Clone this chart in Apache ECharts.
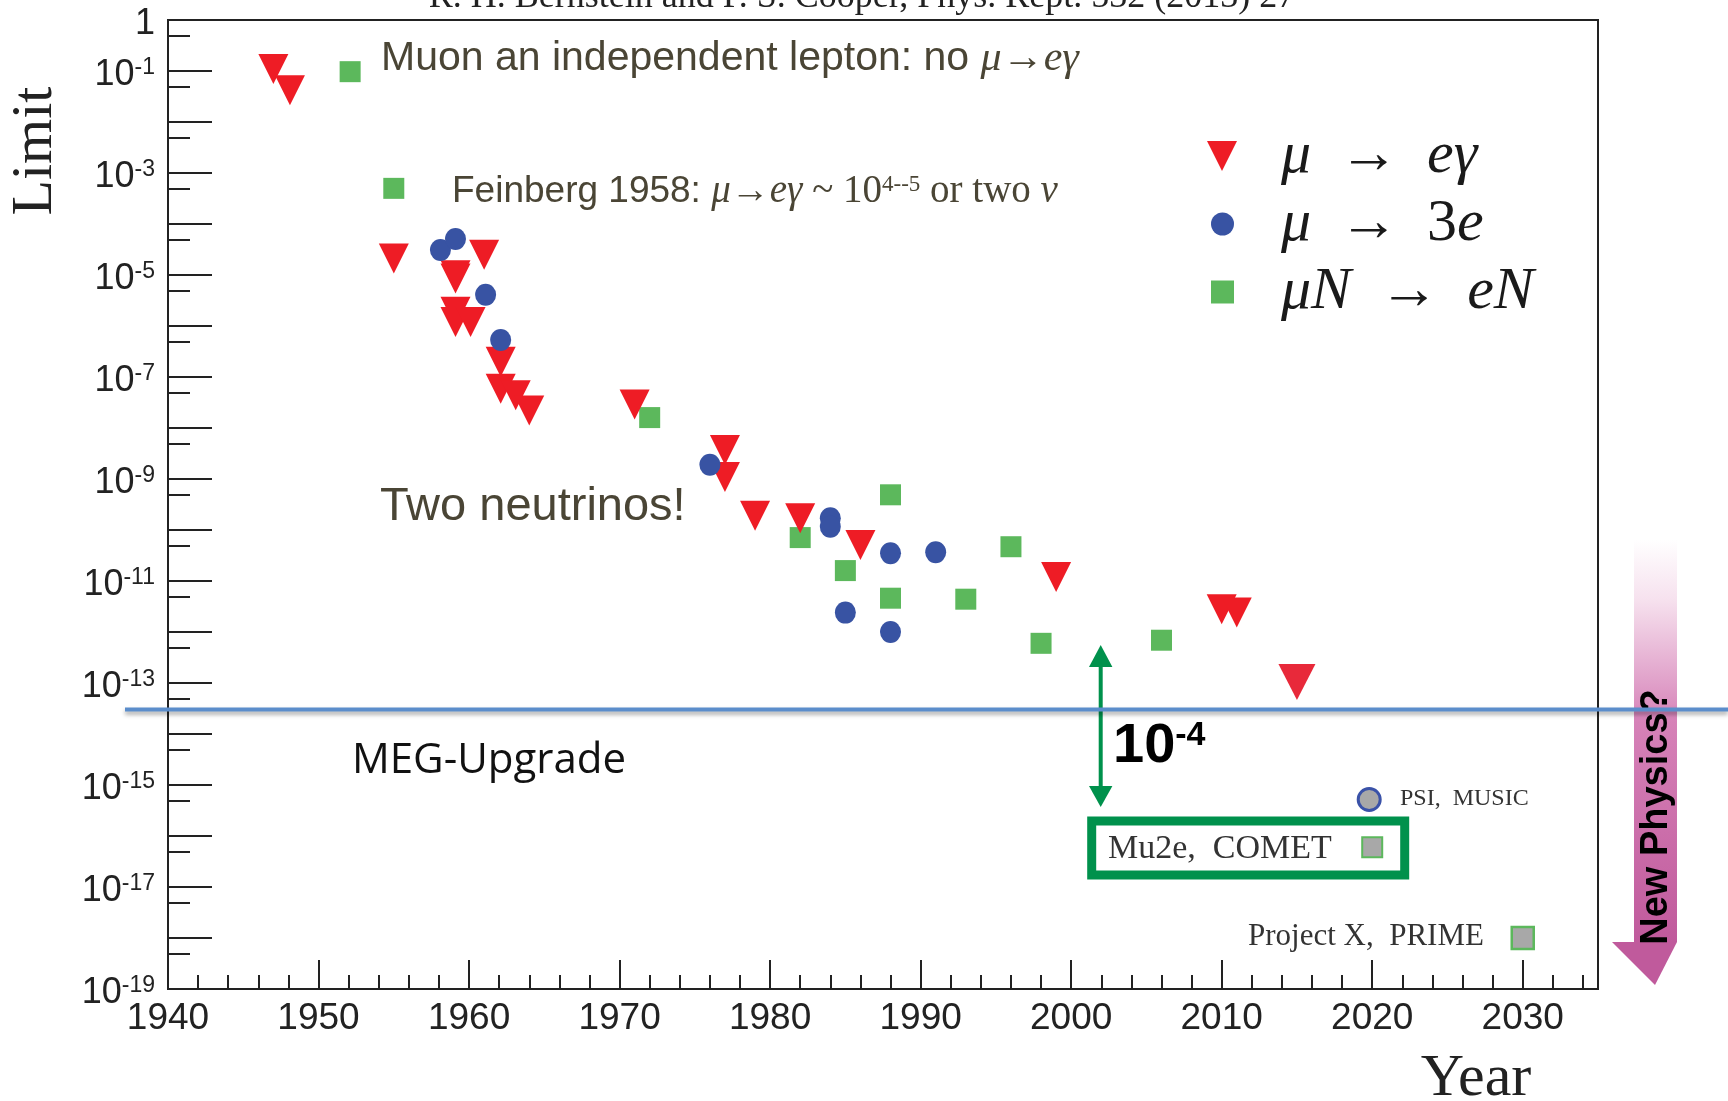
<!DOCTYPE html>
<html>
<head>
<meta charset="utf-8">
<title>Muon LFV limits</title>
<script src="https://cdn.jsdelivr.net/npm/echarts@6.0.0/dist/echarts.min.js"></script>
<style>
html, body { margin: 0; padding: 0; background: #fff; }
#main { width: 1728px; height: 1101px; }
</style>
</head>
<body>
<div id="main"></div>
<script>
// μ → eγ
var megYear  = [1947.0, 1948.1, 1955.0, 1959.1, 1959.1, 1961.0, 1959.1, 1959.1, 1960.1, 1962.1, 1962.1, 1963.1, 1964.0,
                1971.0, 1977.0, 1977.0, 1979.0, 1982.0, 1986.0, 1999.0, 2010.0, 2011.0, 2015.0];
var megLimit = [1.1e-1, 4.2e-2, 2.1e-5, 9.9e-6, 8.5e-6, 2.5e-5, 1.9e-6, 1.2e-6, 1.2e-6, 2.0e-7, 5.9e-8, 4.4e-8, 2.2e-8,
                2.9e-8, 3.7e-9, 1.1e-9, 1.9e-10, 1.7e-10, 5.1e-11, 1.2e-11, 2.8e-12, 2.4e-12, 1.05e-13];
// μ → 3e
var m3eYear  = [1958.1, 1959.1, 1961.1, 1962.1, 1976.0, 1984.0, 1984.0, 1988.0, 1991.0, 1985.0, 1988.0];
var m3eLimit = [3.1e-5, 5.1e-5, 4.1e-6, 5.3e-7, 1.9e-9, 1.7e-10, 1.16e-10, 3.5e-11, 3.65e-11, 2.4e-12, 1.0e-12];
// μN → eN
var convYear  = [1952.1, 1955.0, 1972.0, 1982.0, 1988.0, 1985.0, 1988.0, 1993.0, 1996.0, 1998.0, 2006.0];
var convLimit = [9.7e-2, 5.0e-4, 1.6e-8, 7.1e-11, 4.9e-10, 1.6e-11, 4.6e-12, 4.4e-12, 4.7e-11, 6.0e-13, 6.9e-13];
// future experiments
var futureName  = ['PSI, MUSIC', 'Mu2e, COMET', 'Project X, PRIME'];
var futureYear  = [2019.8, 2020.0, 2030.0];
var futureLimit = [5.2e-16, 6.0e-17, 1.0e-18];
// y axis ticks
var decadeTicks = [1, 1e-1, 1e-2, 1e-3, 1e-4, 1e-5, 1e-6, 1e-7, 1e-8, 1e-9, 1e-10,
                   1e-11, 1e-12, 1e-13, 1e-14, 1e-15, 1e-16, 1e-17, 1e-18, 1e-19];
var decadeLabels = [1, 1e-1, 1e-3, 1e-5, 1e-7, 1e-9, 1e-11, 1e-13, 1e-15, 1e-17, 1e-19];
var halfDecadeTicks = [5e-1, 5e-2, 5e-3, 5e-4, 5e-5, 5e-6, 5e-7, 5e-8, 5e-9, 5e-10,
                       5e-11, 5e-12, 5e-13, 5e-14, 5e-15, 5e-16, 5e-17, 5e-18, 5e-19];
var seriesNames = ['μ → eγ', 'μ → 3e', 'μN → eN'];
var legendText = {
  'μ → eγ': '{i|μ}{a|→}{i|eγ}',
  'μ → 3e': '{i|μ}{a|→}{u|3}{i|e}',
  'μN → eN': '{i|μN}{a|→}{i|eN}'
};

var SANS = '"Liberation Sans", Arial, sans-serif';
var SERIF = '"Liberation Serif", "Times New Roman", serif';
var AXIS = '#222';
var NOTE = '#4a4535';

function pairs(xs, ys) {
  var out = [];
  for (var i = 0; i < xs.length; i++) out.push([xs[i], ys[i]]);
  return out;
}

var megData = pairs(megYear, megLimit);
megData[megData.length - 1] = { value: megData[megData.length - 1], symbolSize: [37, 36], itemStyle: { color: '#e8293a' } };

var futureStyle = [
  { symbol: 'circle', symbolSize: 22, itemStyle: { color: '#a8a8a8', borderColor: '#3a52a8', borderWidth: 3, opacity: 1 } },
  { symbol: 'rect', symbolSize: 20, itemStyle: { color: '#a8a8a8', borderColor: '#5cb85c', borderWidth: 2, opacity: 1 } },
  { symbol: 'rect', symbolSize: 22, itemStyle: { color: '#a8a8a8', borderColor: '#5cb85c', borderWidth: 2.5, opacity: 1 } }
];
var futureData = [];
for (var i = 0; i < futureYear.length; i++) {
  futureData.push({
    name: futureName[i], value: [futureYear[i], futureLimit[i]],
    symbol: futureStyle[i].symbol, symbolSize: futureStyle[i].symbolSize, itemStyle: futureStyle[i].itemStyle
  });
}

var myChart = echarts.init(document.getElementById('main'));

var option = {
  animation: false,
  backgroundColor: '#fff',
  grid: { left: 168, top: 20, width: 1430, height: 969, show: true, borderColor: AXIS, borderWidth: 2, backgroundColor: 'transparent' },
  legend: {
    orient: 'vertical', left: 1206, top: 126, padding: 0,
    itemWidth: 70, itemHeight: 34, itemGap: 8,
    selectedMode: false,
    data: [
      { name: seriesNames[0], icon: 'path://M0,0 M70,34 M1,2 L31,2 L16,32 Z' },
      { name: seriesNames[1], icon: 'path://M0,0 M70,34 M5,17 A11.5,11.5 0 1 0 28,17 A11.5,11.5 0 1 0 5,17 Z' },
      { name: seriesNames[2], icon: 'path://M0,0 M70,34 M5,5.5 L28,5.5 L28,28.5 L5,28.5 Z' }
    ],
    formatter: function (name) { return legendText[name]; },
    textStyle: {
      lineHeight: 58,
      rich: {
        i: { fontFamily: SERIF, fontStyle: 'italic', fontSize: 60, color: '#1a1a1a', lineHeight: 58 },
        u: { fontFamily: SERIF, fontSize: 60, color: '#1a1a1a', lineHeight: 58 },
        a: { fontFamily: SERIF, fontSize: 60, color: '#1a1a1a', lineHeight: 58, padding: [0, 28, 0, 28] }
      }
    }
  },
  xAxis: [{
    type: 'value', min: 1940, max: 2035, interval: 10,
    axisLine: { lineStyle: { color: AXIS, width: 2 } },
    axisTick: { inside: true, length: 29, lineStyle: { color: AXIS, width: 2 } },
    axisLabel: {
      margin: 11, fontSize: 37, fontFamily: SANS, color: AXIS,
      formatter: function (v) { return v <= 2030 ? String(v) : ''; }
    },
    splitLine: { show: false }
  }, {
    type: 'value', position: 'bottom', min: 1940, max: 2035, interval: 2,
    axisLine: { show: false },
    axisTick: { inside: true, length: 14, lineStyle: { color: AXIS, width: 2 } },
    axisLabel: { show: false },
    splitLine: { show: false }
  }],
  yAxis: [{
    type: 'log', logBase: 10, min: 1e-19, max: 1,
    axisLine: { lineStyle: { color: AXIS, width: 2 } },
    axisTick: { inside: true, length: 44, customValues: decadeTicks, lineStyle: { color: AXIS, width: 2 } },
    axisLabel: {
      margin: 13,
      padding: [9, 0, 0, 0],
      customValues: decadeLabels,
      formatter: function (v) {
        var e = Math.round(Math.log10(v));
        if (e === 0) return '{b|1}';
        return '{b|10}{s|' + e + '}';
      },
      rich: {
        b: { fontSize: 36, fontFamily: SANS, color: AXIS, lineHeight: 38 },
        s: { fontSize: 23, fontFamily: SANS, color: AXIS, verticalAlign: 'top', lineHeight: 23 }
      }
    },
    splitLine: { show: false }
  }, {
    type: 'log', logBase: 10, position: 'left', min: 1e-19, max: 1,
    axisLine: { show: false },
    axisTick: { inside: true, length: 22, customValues: halfDecadeTicks, lineStyle: { color: AXIS, width: 2 } },
    axisLabel: { show: false },
    splitLine: { show: false }
  }],
  series: [{
    name: seriesNames[0], type: 'scatter', symbol: 'triangle', symbolRotate: 180, symbolSize: [30, 30],
    itemStyle: { color: '#ee1c25', opacity: 1 }, data: megData, z: 3
  }, {
    name: seriesNames[1], type: 'scatter', symbol: 'circle', symbolSize: [21, 22],
    itemStyle: { color: '#3853a3', opacity: 1 }, data: pairs(m3eYear, m3eLimit), z: 4
  }, {
    name: seriesNames[2], type: 'scatter', symbol: 'rect', symbolSize: 21,
    itemStyle: { color: '#5cb85c', opacity: 1 }, data: pairs(convYear, convLimit), z: 2
  }, {
    name: 'future', type: 'scatter', data: futureData, z: 4
  }],
  graphic: [
    // clipped reference line at the very top
    { type: 'text', x: 862, y: -2, style: { text: 'R. H. Bernstein and P. S. Cooper, Phys. Rept. 532 (2013) 27', font: '36px ' + SERIF, fill: '#222', align: 'center', verticalAlign: 'middle' } },
    { type: 'text', x: 36, y: 151, rotation: Math.PI / 2, style: { text: 'Limit', font: '58px ' + SERIF, fill: '#222', align: 'center', verticalAlign: 'middle' } },
    { type: 'text', x: 1476, y: 1079, style: { text: 'Year', font: '60px ' + SERIF, fill: '#222', align: 'center', verticalAlign: 'middle' } },
    { type: 'text', x: 381, y: 59, style: {
        text: '{a|Muon an independent lepton: no }{m|μ}{r|→}{m|eγ}', align: 'left', verticalAlign: 'middle',
        rich: {
          a: { fontFamily: SANS, fontSize: 41, fill: NOTE },
          m: { fontFamily: SERIF, fontStyle: 'italic', fontSize: 42, fill: NOTE },
          r: { fontFamily: SERIF, fontSize: 42, fill: NOTE }
        } } },
    { type: 'text', x: 452, y: 192, style: {
        text: '{a|Feinberg 1958: }{m|μ}{r|→}{m|eγ}{r| ~ 10}{s|4--5}{r| or two }{m|ν}', align: 'left', verticalAlign: 'middle',
        rich: {
          a: { fontFamily: SANS, fontSize: 37, fill: NOTE, lineHeight: 38 },
          m: { fontFamily: SERIF, fontStyle: 'italic', fontSize: 39, fill: NOTE, lineHeight: 38 },
          r: { fontFamily: SERIF, fontSize: 39, fill: NOTE, lineHeight: 38 },
          s: { fontFamily: SERIF, fontSize: 23, fill: NOTE, verticalAlign: 'top', lineHeight: 23 }
        } } },
    { type: 'text', x: 380, y: 507, style: { text: 'Two neutrinos!', font: '47px ' + SANS, fill: NOTE, align: 'left', verticalAlign: 'middle' } },
    { type: 'text', x: 352, y: 761, style: { text: 'MEG-Upgrade', font: '42px "Open Sans", "Noto Sans", sans-serif', fill: '#111', align: 'left', verticalAlign: 'middle' } },
    // 10^-4 gap arrow
    { type: 'line', shape: { x1: 1100.7, y1: 662, x2: 1100.7, y2: 790 }, style: { stroke: '#00914c', lineWidth: 4 } },
    { type: 'polygon', shape: { points: [[1100.7, 645], [1089, 667], [1112.4, 667]] }, style: { fill: '#00914c' } },
    { type: 'polygon', shape: { points: [[1100.7, 807], [1089, 786], [1112.4, 786]] }, style: { fill: '#00914c' } },
    { type: 'text', x: 1113, y: 747, style: {
        text: '{b|10}{s|-4}', align: 'left', verticalAlign: 'middle',
        rich: {
          b: { fontFamily: SANS, fontWeight: 'bold', fontSize: 56, fill: '#000', lineHeight: 56 },
          s: { fontFamily: SANS, fontWeight: 'bold', fontSize: 34, fill: '#000', verticalAlign: 'top', lineHeight: 34 }
        } } },
    // future experiment labels
    { type: 'rect', shape: { x: 1091.7, y: 821, width: 313, height: 54 }, style: { fill: 'none', stroke: '#00914c', lineWidth: 9 } },
    { type: 'text', x: 1108, y: 849, style: { text: 'Mu2e,  COMET', font: '34px ' + SERIF, fill: '#333', align: 'left', verticalAlign: 'middle' } },
    { type: 'text', x: 1400, y: 799, style: { text: 'PSI,  MUSIC', font: '24px ' + SERIF, fill: '#333', align: 'left', verticalAlign: 'middle' } },
    { type: 'text', x: 1248, y: 937, style: { text: 'Project X,  PRIME', font: '31px ' + SERIF, fill: '#333', align: 'left', verticalAlign: 'middle' } },
    // New Physics? arrow
    { type: 'rect', z: 1, shape: { x: 1634, y: 540, width: 43, height: 402 }, style: {
        fill: new echarts.graphic.LinearGradient(0, 0, 0, 1, [
          { offset: 0, color: '#ffffff' }, { offset: 0.15, color: '#f6e1ee' },
          { offset: 0.45, color: '#d682b8' }, { offset: 1, color: '#c05a9c' }
        ]) } },
    { type: 'polygon', z: 1, shape: { points: [[1612, 942], [1677, 942], [1655, 985]] }, style: { fill: '#c05a9c' } },
    { type: 'text', z: 2, x: 1657, y: 817, rotation: Math.PI / 2, style: { text: 'New Physics?', font: 'bold 38px ' + SANS, fill: '#000', align: 'center', verticalAlign: 'middle' } },
    // MEG-Upgrade reach line
    { type: 'line', z: 10, shape: { x1: 125, y1: 709.5, x2: 1728, y2: 709.5 }, style: { stroke: '#5b8dcb', lineWidth: 4, shadowBlur: 4, shadowColor: 'rgba(0,0,0,0.35)', shadowOffsetY: 3 } }
  ]
};

myChart.setOption(option);
</script>
</body>
</html>
